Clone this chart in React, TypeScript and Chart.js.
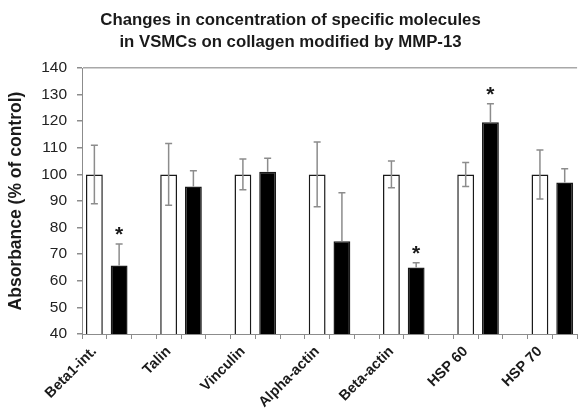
import React, { useEffect, useRef } from 'react';
import { Chart, registerables } from 'chart.js';

Chart.register(...registerables);

// ---- data ----
const categories = ['Beta1-int.', 'Talin', 'Vinculin', 'Alpha-actin', 'Beta-actin', 'HSP 60', 'HSP 70'];
const controlValues = [100, 100, 100, 100, 100, 100, 100];
const controlErrors = [11, 11.6, 5.8, 12.2, 5, 4.5, 9.2];
const mmpValues = [65.8, 95.5, 101, 74.9, 65, 119.6, 97];
const mmpErrors = [8, 5.9, 5.1, 18.2, 1.75, 7, 5.1];
const significant = [true, false, false, false, true, true, false];
const titleLines = ['Changes in concentration of specific molecules', 'in VSMCs on collagen modified by MMP-13'];
const yAxisTitle = 'Absorbance (% of control)';
const yMin = 40;
const yMax = 140;
const yStep = 10;

const FONT = 'Arial, "Liberation Sans", Helvetica, sans-serif';

export default function App() {
  const ref = useRef<HTMLCanvasElement>(null);

  useEffect(() => {
    if (!ref.current) return;
    const slotLabels: string[] = [];
    const slotValues: (number | null)[] = [];
    const slotErr: number[] = [];
    const slotKind: string[] = [];
    const slotStar: boolean[] = [];
    categories.forEach((c, i) => {
      slotLabels.push(c, '', '');
      slotValues.push(controlValues[i], mmpValues[i], null);
      slotErr.push(controlErrors[i], mmpErrors[i], 0);
      slotKind.push('control', 'mmp', 'empty');
      slotStar.push(false, significant[i], false);
    });
    // the picture ends right after the last bar
    slotLabels.pop();
    slotValues.pop();
    slotErr.pop();
    slotKind.pop();
    slotStar.pop();

    const errorPlugin = {
      id: 'errorBars',
      afterDatasetsDraw(chart: any) {
        const ctx = chart.ctx;
        const meta = chart.getDatasetMeta(0);
        const ys = chart.scales.y;
        ctx.save();
        meta.data.forEach((bar: any, k: number) => {
          const v = slotValues[k];
          if (v == null) return;
          const e = slotErr[k];
          const x = bar.x;
          const top = ys.getPixelForValue(v + e);
          const bottom = slotKind[k] === 'control' ? ys.getPixelForValue(v - e) : ys.getPixelForValue(v);
          ctx.strokeStyle = '#8c8c8c';
          ctx.lineWidth = 1.5;
          ctx.beginPath();
          ctx.moveTo(x, top);
          ctx.lineTo(x, bottom);
          ctx.moveTo(x - 3.5, top);
          ctx.lineTo(x + 3.5, top);
          if (slotKind[k] === 'control') {
            ctx.moveTo(x - 3.5, bottom);
            ctx.lineTo(x + 3.5, bottom);
          }
          ctx.stroke();
          if (slotStar[k]) {
            ctx.fillStyle = '#1a1a1a';
            ctx.font = 'bold 21px ' + FONT;
            ctx.textAlign = 'center';
            ctx.textBaseline = 'alphabetic';
            ctx.fillText('*', x, top - 3);
          }
        });
        ctx.restore();
      },
    };

    const chart = new Chart(ref.current, {
      type: 'bar',
      data: {
        labels: slotLabels,
        datasets: [
          {
            data: slotValues,
            backgroundColor: slotKind.map((k) => (k === 'mmp' ? '#000000' : '#ffffff')),
            borderColor: '#1a1a1a',
            borderWidth: 1.5,
            barPercentage: 0.68,
            categoryPercentage: 1,
          },
        ],
      },
      options: {
        animation: false,
        responsive: false,
        layout: { padding: 0 },
        plugins: {
          legend: { display: false },
          tooltip: { enabled: false },
          title: {
            display: true,
            text: titleLines,
            color: '#1a1a1a',
            font: { family: FONT, size: 16.8, weight: 'bold', lineHeight: 1.31 },
            padding: { top: 9, bottom: 15 },
          },
        },
        scales: {
          x: {
            offset: true,
            grid: {
              display: true,
              drawOnChartArea: false,
              offset: true,
              tickLength: 5,
              color: '#8c8c8c',
              tickColor: '#8c8c8c',
            },
            border: { color: '#8c8c8c', width: 1 },
            ticks: {
              autoSkip: false,
              minRotation: 45,
              maxRotation: 45,
              padding: 4,
              labelOffset: 0,
              color: '#1a1a1a',
              font: { family: FONT, size: 14.5, weight: 'bold' },
            },
            afterFit: (s: any) => {
              s.height = 78;
            },
          },
          y: {
            min: yMin,
            max: yMax,
            ticks: {
              stepSize: yStep,
              padding: 10,
              color: '#222222',
              font: { family: FONT, size: 15.5 },
            },
            grid: {
              drawOnChartArea: true,
              color: (c: any) => (c.tick && c.tick.value === yMax ? '#a8a8a8' : 'rgba(0,0,0,0)'),
              tickColor: '#8c8c8c',
              tickLength: 5,
              lineWidth: 1.5,
            },
            border: { color: '#8c8c8c', width: 1 },
            title: {
              display: true,
              text: yAxisTitle,
              color: '#1a1a1a',
              font: { family: FONT, size: 17.5, weight: 'bold' },
              padding: { top: 6, bottom: 0 },
            },
            afterFit: (s: any) => {
              s.width = 82;
            },
          },
        },
      },
      plugins: [errorPlugin],
    });
    return () => chart.destroy();
  }, []);

  return (
    <div
      style={{
        position: 'absolute',
        left: 0,
        top: 0,
        width: 581,
        height: 412,
        overflow: 'hidden',
        background: '#ffffff',
      }}
    >
      <canvas ref={ref} width={581} height={412} style={{ display: 'block' }} />
    </div>
  );
}
